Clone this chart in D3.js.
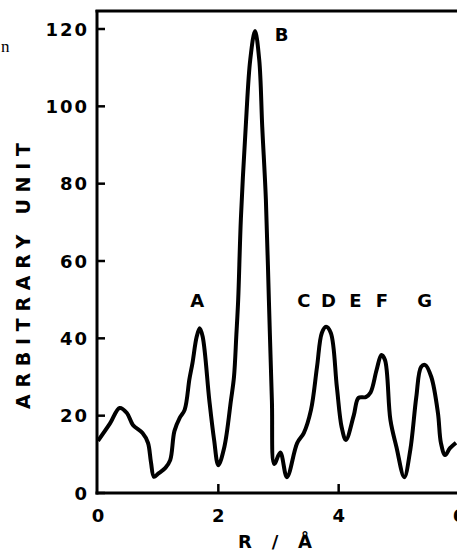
<!DOCTYPE html>
<html>
<head>
<meta charset="utf-8">
<script src="https://cdn.jsdelivr.net/npm/d3@7"></script>
<style>
body{margin:0;background:#fff;}
text{font-family:"DejaVu Sans",sans-serif;font-weight:bold;fill:#000;}
</style>
</head>
<body>
<svg id="chart" width="457" height="552"></svg>
<script>
// R (Å) positions
let rVals=[0,0.2,0.36,0.48,0.58,0.74,0.83,0.88,0.93,1.0,1.12,1.2,1.27,1.36,1.44,1.52,1.57,1.64,1.69,1.74,1.85,1.93,2.0,2.1,2.21,2.26,2.3,2.33,2.375,2.46,2.53,2.61,2.68,2.73,2.79,2.84,2.89,2.93,3.03,3.14,3.31,3.42,3.54,3.64,3.72,3.79,3.87,3.97,4.05,4.12,4.25,4.33,4.45,4.53,4.63,4.71,4.77,4.86,4.96,5.09,5.19,5.29,5.37,5.44,5.54,5.65,5.7,5.77,5.85,5.95]
// intensity (arbitrary unit)
let intensity=[13.5,18,22,20.7,17.6,15.5,13,8,4.2,5,6.5,8.5,16,19.5,21.5,29.5,33.6,40.4,42.6,40.4,24,13.7,7.2,11.9,24,30,41,50,71,96,112,119.5,112,94.6,76,50,24,7.5,10.5,4.1,12.9,15.5,21.5,32.6,41.4,43,41.4,27.4,17,13.7,20,24.6,24.8,26,31.8,35.7,34.4,18.9,11.9,4.1,11.1,24.8,32.6,33.1,30,20.7,12.9,9.8,11.6,13]
let peakNames=['A','B','C','D','E','F','G']
let peakR=[1.65,3.05,3.42,3.83,4.28,4.72,5.43]
let peakY=[48,117,48,48,48,48,48]
let xTicks=[0,2,4,6]
let yTicks=[0,20,40,60,80,100,120]

let svg=d3.select('#chart')
let x=d3.scaleLinear().domain([0,6]).range([98,459])
let y=d3.scaleLinear().domain([0,120]).range([493,29])

// frame: left spine, bottom axis, top line
svg.append('line').attr('x1',97).attr('x2',97).attr('y1',10).attr('y2',494.5)
   .attr('stroke','#000').attr('stroke-width',3)
svg.append('line').attr('x1',95.5).attr('x2',457).attr('y1',493).attr('y2',493)
   .attr('stroke','#000').attr('stroke-width',3)
svg.append('line').attr('x1',95.5).attr('x2',457).attr('y1',11).attr('y2',11)
   .attr('stroke','#000').attr('stroke-width',3)

// y ticks point inward
svg.selectAll('.yt').data(yTicks).enter().append('line')
   .attr('x1',97).attr('x2',105).attr('y1',d=>y(d)).attr('y2',d=>y(d))
   .attr('stroke','#000').attr('stroke-width',2.5)
svg.selectAll('.yl').data(yTicks).enter().append('text')
   .attr('x',89).attr('y',d=>y(d)+6.5).attr('text-anchor','end')
   .attr('font-size',18).attr('letter-spacing',2)
   .text(d=>d)

svg.selectAll('.xt').data(xTicks.slice(1)).enter().append('line')
   .attr('x1',d=>x(d)).attr('x2',d=>x(d)).attr('y1',493).attr('y2',484)
   .attr('stroke','#000').attr('stroke-width',2.5)
svg.selectAll('.xl').data(xTicks).enter().append('text')
   .attr('x',d=>x(d)).attr('y',522).attr('text-anchor','middle')
   .attr('font-size',18)
   .text(d=>d)

// axis titles
svg.append('text').attr('transform','translate(30,276) rotate(-90)')
   .attr('text-anchor','middle').attr('font-size',19)
   .attr('textLength',266).attr('lengthAdjust','spacing')
   .text('ARBITRARY UNIT')
svg.append('text').attr('x',275).attr('y',548).attr('text-anchor','middle')
   .attr('font-size',18).attr('textLength',74).attr('lengthAdjust','spacing')
   .text('R / Å')

// stray text from the scanned page
svg.append('text').attr('x',1).attr('y',52).attr('font-size',17)
   .style('font-family','"Liberation Serif",serif').style('font-weight','normal')
   .text('n')

// the curve
let pts=rVals.map((r,i)=>[r,intensity[i]])
let line=d3.line().x(d=>x(d[0])).y(d=>y(d[1])).curve(d3.curveCatmullRom.alpha(0.5))
svg.append('path').datum(pts).attr('d',line)
   .attr('fill','none').attr('stroke','#000').attr('stroke-width',4)
   .attr('stroke-linejoin','round')

// peak labels
svg.selectAll('.pk').data(peakNames).enter().append('text')
   .attr('x',(d,i)=>x(peakR[i])).attr('y',(d,i)=>y(peakY[i]))
   .attr('text-anchor','middle').attr('font-size',18)
   .text(d=>d)
</script>
</body>
</html>
